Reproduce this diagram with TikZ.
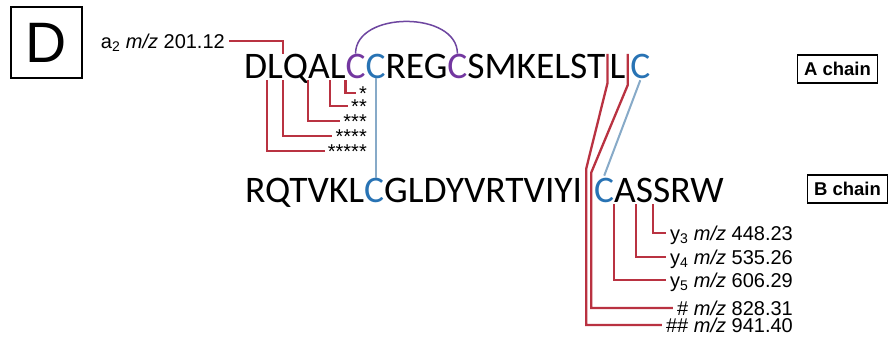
\documentclass[tikz,border=0pt]{standalone}
\usepackage{fontspec}
\setmainfont{Liberation Sans}
\newfontfamily\seqfont{Carlito}
\usetikzlibrary{calc}
\definecolor{fragred}{RGB}{185,50,65}
\definecolor{bondblue}{RGB}{135,170,200}
\definecolor{cysblue}{RGB}{40,115,180}
\definecolor{cyspurple}{RGB}{115,55,160}
\definecolor{arcpurple}{RGB}{110,70,160}

\begin{document}
\begin{tikzpicture}[x=1pt,y=-1pt,
  seq/.style={inner sep=0pt, outer sep=0pt, anchor=base west,
    font=\seqfont\fontsize{37.5}{45}\selectfont},
  frag/.style={draw=fragred, line width=2.3pt},
  bond/.style={draw=bondblue, line width=2pt},
  ssarc/.style={draw=arcpurple, line width=1.5pt},
  lab/.style={font=\fontsize{20}{24}\selectfont, text height=14.5pt,
    text depth=0pt, inner xsep=4pt, inner ysep=0pt, anchor=east},
  stars/.style={font=\fontsize{20}{24}\selectfont, text height=14.6pt,
    text depth=-8.6pt, inner xsep=3pt, inner ysep=0pt, anchor=east},
  chainbox/.style={draw, line width=1.5pt,
    font=\bfseries\fontsize{18.5}{22}\selectfont,
    minimum width=80pt, minimum height=28pt, inner sep=0pt},
]
\fill[white] (0,0) rectangle (890,340);
\useasboundingbox (0,0) rectangle (890,340);

% panel letter
\node[draw, line width=2pt, minimum width=71pt, minimum height=71pt,
  inner sep=0pt, font=\fontsize{57}{60}\selectfont] (panel) at (46.5,42.5) {D};

% A chain: residues split where a connector passes
\node[seq] (a0) at (243,78) {};
\foreach \letr/\colr/\gapr [count=\i] in {D/black/0, L/black/0, Q/black/0,
    A/black/0, L/black/0, C/cyspurple/0, C/cysblue/0, REG/black/0,
    C/cyspurple/0, SMKELST/black/0, L/black/4, C/cysblue/5}{
  \pgfmathtruncatemacro\prev{\i-1}
  \node[seq, text=\colr] (a\i) at ($(a\prev.base east)+(\gapr,0)$) {\letr};
}

% B chain
\node[seq] (b0) at (244,202) {};
\foreach \letr/\colr/\gapr [count=\i] in {RQTVKL/black/0, C/cysblue/0,
    GLDYVRTVIYI/black/0, C/cysblue/12, A/black/0, S/black/0, S/black/0,
    RW/black/0}{
  \pgfmathtruncatemacro\prev{\i-1}
  \node[seq, text=\colr] (b\i) at ($(b\prev.base east)+(\gapr,0)$) {\letr};
}

% chain labels
\node[chainbox] (achain) at (837.5,69) {A chain};
\node[chainbox] (bchain) at (847.5,189) {B chain};

% intra-chain disulfide
\draw[ssarc] (a6.north) .. controls +(0,-43) and +(0,-43) .. (a9.north);

% inter-chain disulfides
\draw[bond] (a7.south) -- (a7.south |- b2.north);
\draw[bond] ($(a12.south)+(0,2)$) -- ($(b4.north)+(0,-2)$);

% a-ion
\node[lab] (fa) at (229,41) {a\textsubscript{2} \textit{m/z} 201.12};
\draw[frag] (fa.east) -| (a2.base east |- a2.north);

% A-chain fragments
\node[stars] (s1) at (370,93) {*};
\node[stars] (s2) at (370,106) {**};
\node[stars] (s3) at (370,121) {***};
\node[stars] (s4) at (370,136) {****};
\node[stars] (s5) at (370,151) {*****};
\draw[frag] ($(a5.base east)+(0,2)$) |- (s1.west);
\draw[frag] ($(a4.base east)+(0,2)$) |- (s2.west);
\draw[frag] ($(a3.base east)+(0,2)$) |- (s3.west);
\draw[frag] ($(a2.base east)+(0,2)$) |- (s4.west);
\draw[frag] ($(a1.base east)+(0,2)$) |- (s5.west);

% y-ions and cross-linked fragments
\node[lab] (f1) at (797,233) {y\textsubscript{3} \textit{m/z} 448.23};
\node[lab] (f2) at (797,257) {y\textsubscript{4} \textit{m/z} 535.26};
\node[lab] (f3) at (797,280) {y\textsubscript{5} \textit{m/z} 606.29};
\node[lab] (f4) at (797,308) {\# \textit{m/z} 828.31};
\node[lab] (f5) at (797,325) {\#\# \textit{m/z} 941.40};
\draw[frag] ($(b6.base east)+(0,2)$) |- (f1.west);
\draw[frag] ($(b5.base east)+(0,2)$) |- (f2.west);
\draw[frag] ($(b4.base east)+(0,2)$) |- (f3.west);

\coordinate (g1) at ($(a10.base east)+(2,0)$);
\coordinate (g2) at ($(a11.base east)+(2.5,0)$);
\coordinate (h1) at ($(b3.base east)+(4,0)$);
\coordinate (h2) at ($(b3.base east)+(9,0)$);
\draw[frag] (g1 |- a11.north) -- ($(g1)+(0,5)$)
  -- ($(h1 |- b4.north)+(0,-9)$) |- (f5.west);
\draw[frag] (g2 |- a11.north) -- ($(g2)+(0,7)$)
  -- ($(h2 |- b4.north)+(0,-5)$) |- (f4.west);
\end{tikzpicture}
\end{document}
